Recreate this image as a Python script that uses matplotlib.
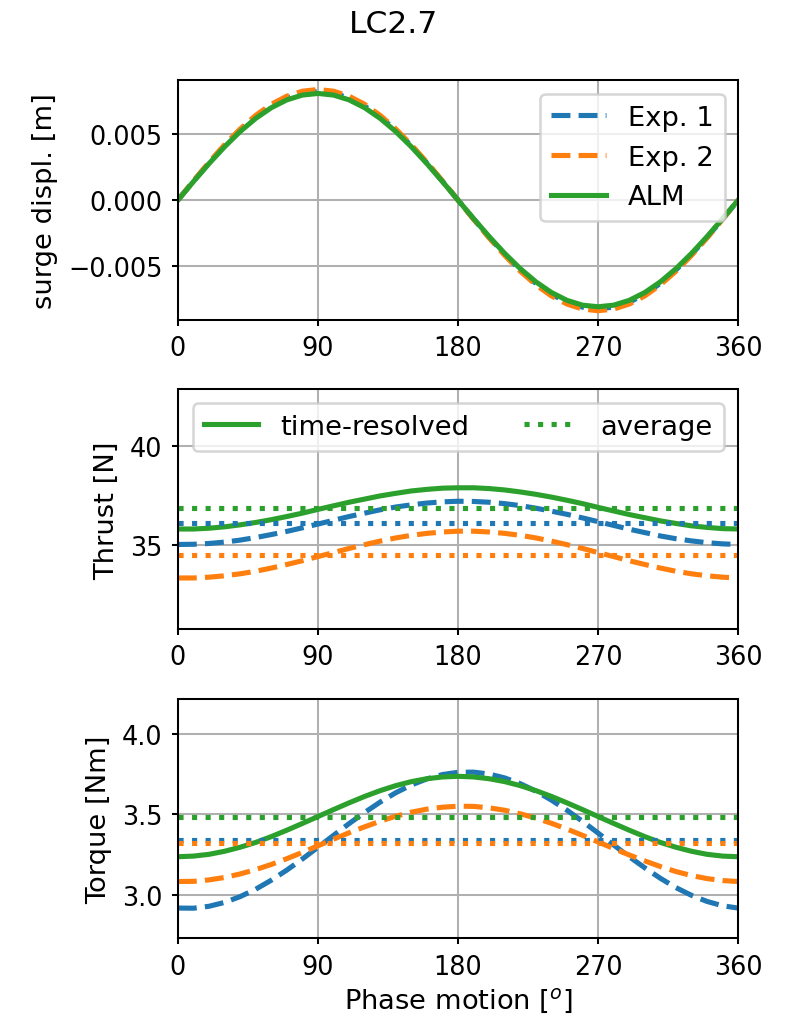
import matplotlib.pyplot as plt

# phase of the surge motion [deg]
phase = [0, 10, 20, 30, 40, 50, 60, 70, 80, 90, 100, 110, 120, 130, 140, 150, 160, 170, 180,
         190, 200, 210, 220, 230, 240, 250, 260, 270, 280, 290, 300, 310, 320, 330, 340, 350, 360]

# surge displacement [m]
surge_exp1 = [0, 0.001432, 0.002822, 0.004125, 0.005303, 0.00632, 0.007145, 0.007753, 0.008125, 0.00825,
              0.008125, 0.007753, 0.007145, 0.00632, 0.005303, 0.004125, 0.002822, 0.001432, 0,
              -0.001432, -0.002822, -0.004125, -0.005303, -0.00632, -0.007145, -0.007753, -0.008125, -0.00825,
              -0.008125, -0.007753, -0.007145, -0.00632, -0.005303, -0.004125, -0.002822, -0.001432, 0]
surge_exp2 = [0, 0.001458, 0.002873, 0.0042, 0.0054, 0.006434, 0.007274, 0.007893, 0.008272, 0.0084,
              0.008272, 0.007893, 0.007274, 0.006434, 0.0054, 0.0042, 0.002873, 0.001458, 0,
              -0.001458, -0.002873, -0.0042, -0.0054, -0.006434, -0.007274, -0.007893, -0.008272, -0.0084,
              -0.008272, -0.007893, -0.007274, -0.006434, -0.0054, -0.0042, -0.002873, -0.001458, 0]
surge_alm = [0, 0.001406, 0.00277, 0.00405, 0.005207, 0.006205, 0.007015, 0.007612, 0.007977, 0.0081,
             0.007977, 0.007612, 0.007015, 0.006205, 0.005207, 0.00405, 0.00277, 0.001406, 0,
             -0.001406, -0.00277, -0.00405, -0.005207, -0.006205, -0.007015, -0.007612, -0.007977, -0.0081,
             -0.007977, -0.007612, -0.007015, -0.006205, -0.005207, -0.00405, -0.00277, -0.001406, 0]

# thrust [N]
thrust_exp1 = [35.03, 35.04, 35.08, 35.15, 35.25, 35.38, 35.53, 35.69, 35.87, 36.06, 36.25, 36.44, 36.61,
               36.78, 36.92, 37.03, 37.12, 37.18, 37.21, 37.20, 37.16, 37.09, 36.99, 36.86, 36.71, 36.55,
               36.37, 36.18, 35.99, 35.80, 35.63, 35.46, 35.32, 35.21, 35.12, 35.06, 35.03]
thrust_exp2 = [33.34, 33.34, 33.38, 33.45, 33.55, 33.68, 33.84, 34.02, 34.21, 34.42, 34.62, 34.83, 35.02,
               35.20, 35.36, 35.49, 35.59, 35.66, 35.70, 35.70, 35.66, 35.59, 35.49, 35.36, 35.20, 35.02,
               34.83, 34.62, 34.42, 34.21, 34.02, 33.84, 33.68, 33.55, 33.45, 33.38, 33.34]
thrust_alm = [35.81, 35.81, 35.85, 35.92, 36.02, 36.14, 36.28, 36.44, 36.61, 36.80, 36.98, 37.16, 37.32,
              37.48, 37.61, 37.73, 37.81, 37.87, 37.89, 37.89, 37.85, 37.78, 37.68, 37.56, 37.42, 37.26,
              37.09, 36.90, 36.72, 36.54, 36.38, 36.22, 36.09, 35.97, 35.89, 35.83, 35.81]

# torque [Nm]
torque_exp1 = [2.918, 2.917, 2.929, 2.953, 2.989, 3.035, 3.091, 3.154, 3.223, 3.296, 3.370, 3.443, 3.512,
               3.577, 3.635, 3.683, 3.721, 3.748, 3.762, 3.763, 3.751, 3.727, 3.691, 3.645, 3.589, 3.526,
               3.457, 3.384, 3.310, 3.237, 3.168, 3.103, 3.045, 2.997, 2.959, 2.932, 2.918]
torque_exp2 = [3.083, 3.084, 3.093, 3.108, 3.130, 3.157, 3.189, 3.225, 3.264, 3.305, 3.346, 3.386, 3.423,
               3.458, 3.489, 3.514, 3.533, 3.545, 3.551, 3.550, 3.541, 3.526, 3.504, 3.477, 3.445, 3.409,
               3.370, 3.329, 3.288, 3.248, 3.211, 3.176, 3.145, 3.120, 3.101, 3.089, 3.083]
torque_alm = [3.237, 3.241, 3.252, 3.271, 3.296, 3.326, 3.362, 3.402, 3.444, 3.487, 3.530, 3.572, 3.612,
              3.648, 3.679, 3.704, 3.722, 3.733, 3.737, 3.733, 3.722, 3.704, 3.679, 3.648, 3.612, 3.572,
              3.530, 3.487, 3.444, 3.402, 3.362, 3.326, 3.296, 3.271, 3.252, 3.241, 3.237]

# averages
thrust_avg = {"Exp. 1": 36.12, "Exp. 2": 34.52, "ALM": 36.85}
torque_avg = {"Exp. 1": 3.344, "Exp. 2": 3.32, "ALM": 3.487}

plt.rcParams['font.size'] = 10.7
plt.rcParams['xtick.labelsize'] = 10
plt.rcParams['ytick.labelsize'] = 10
plt.rcParams['xtick.major.size'] = 2.5
plt.rcParams['ytick.major.size'] = 2.5
lw = 2

fig, axs = plt.subplots(3, 1, figsize=(787 / 184, 1016 / 184), dpi=184)
fig.subplots_adjust(left=0.226, right=0.938, top=0.920, bottom=0.0755, hspace=0.29)
fig.suptitle("LC2.7", y=0.99, fontsize=12.3)

# surge
ax = axs[0]
ax.plot(phase, surge_exp1, "--", color="C0", lw=lw, label="Exp. 1")
ax.plot(phase, surge_exp2, "--", color="C1", lw=lw, label="Exp. 2")
ax.plot(phase, surge_alm, "-", color="C2", lw=lw, label="ALM")
ax.set_ylim(-0.0091, 0.0091)
ax.set_yticks([-0.005, 0, 0.005])
ax.set_ylabel("surge displ. [m]")
ax.legend(loc="upper right")

# thrust
ax = axs[1]
ax.plot(phase, thrust_exp1, "--", color="C0", lw=lw)
ax.plot(phase, thrust_exp2, "--", color="C1", lw=lw)
ax.plot(phase, thrust_alm, "-", color="C2", lw=lw, label="time-resolved")
ax.axhline(thrust_avg["Exp. 1"], ls=":", color="C0", lw=lw)
ax.axhline(thrust_avg["Exp. 2"], ls=":", color="C1", lw=lw)
ax.axhline(thrust_avg["ALM"], ls=":", color="C2", lw=lw, label="average")
ax.set_ylim(30.76, 42.85)
ax.set_yticks([35, 40])
ax.set_ylabel("Thrust [N]")
ax.legend(loc="upper center", ncol=2)

# torque
ax = axs[2]
ax.plot(phase, torque_exp1, "--", color="C0", lw=lw)
ax.plot(phase, torque_exp2, "--", color="C1", lw=lw)
ax.plot(phase, torque_alm, "-", color="C2", lw=lw)
ax.axhline(torque_avg["Exp. 1"], ls=":", color="C0", lw=lw)
ax.axhline(torque_avg["Exp. 2"], ls=":", color="C1", lw=lw)
ax.axhline(torque_avg["ALM"], ls=":", color="C2", lw=lw)
ax.set_ylim(2.73, 4.22)
ax.set_yticks([3.0, 3.5, 4.0])
ax.set_ylabel("Torque [Nm]")
ax.set_xlabel("Phase motion [$^o$]", labelpad=2.5)

for ax in axs:
    ax.set_xlim(0, 360)
    ax.set_xticks([0, 90, 180, 270, 360])
    ax.grid(True)

fig.savefig("out.png")
